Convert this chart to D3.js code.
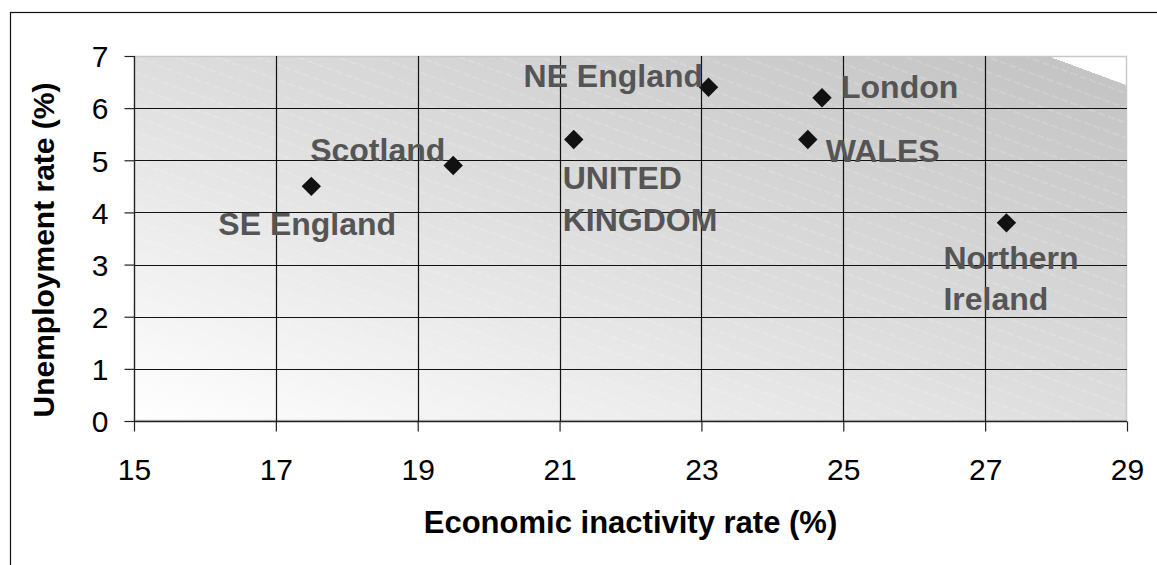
<!DOCTYPE html>
<html>
<head>
<meta charset="utf-8">
<script src="https://cdn.jsdelivr.net/npm/d3@7"></script>
<style>
  html, body { margin: 0; padding: 0; background: #fff; }
  svg text { font-family: "Liberation Sans", Arial, sans-serif; }
</style>
</head>
<body>
<div id="chart"></div>
<script>
// Regional labour market data
const regions = ['SE England', 'Scotland', 'UNITED KINGDOM', 'NE England', 'London', 'WALES', 'Northern Ireland'];
const inactivityRate = [17.5, 19.5, 21.2, 23.1, 24.7, 24.5, 27.3];
const unemploymentRate = [4.5, 4.9, 5.4, 6.4, 6.2, 5.4, 3.8];
const xTickValues = [15, 17, 19, 21, 23, 25, 27, 29];
const yTickValues = [0, 1, 2, 3, 4, 5, 6, 7];

// label placement relative to each marker (px), and line breaks
const labelLayout = [
  { dx: -93, dy: 49, lines: ['SE England'] },
  { dx: -143, dy: -5, lines: ['Scotland'] },
  { dx: -11, dy: 50, lines: ['UNITED', 'KINGDOM'] },
  { dx: -185, dy: 0, lines: ['NE England'] },
  { dx: 19, dy: 0, lines: ['London'] },
  { dx: 18, dy: 23, lines: ['WALES'] },
  { dx: -63, dy: 46, lines: ['Northern', 'Ireland'] }
];

const width = 1157, height = 565;
const plot = { left: 134, right: 1127, top: 56, bottom: 421 };

const svg = d3.select('#chart').append('svg')
  .attr('width', width)
  .attr('height', height);

const x = d3.scaleLinear().domain([15, 29]).range([plot.left, plot.right]);
const y = d3.scaleLinear().domain([0, 7]).range([plot.bottom, plot.top]);

// chart frame (runs off the right / bottom edge)
svg.append('rect')
  .attr('x', 10.5).attr('y', 12.5)
  .attr('width', 1300).attr('height', 700)
  .attr('fill', 'none')
  .attr('stroke', '#111')
  .attr('stroke-width', 1.2);

const defs = svg.append('defs');
const grad = defs.append('linearGradient')
  .attr('id', 'bg')
  .attr('x1', 0).attr('y1', 1).attr('x2', 1).attr('y2', 0);
grad.append('stop').attr('offset', 0).attr('stop-color', '#ffffff');
grad.append('stop').attr('offset', 0.5).attr('stop-color', '#dddddd');
grad.append('stop').attr('offset', 0.96).attr('stop-color', '#c4c4c4');
grad.append('stop').attr('offset', 0.96).attr('stop-color', '#ffffff');
grad.append('stop').attr('offset', 1).attr('stop-color', '#ffffff');

// faint banding stripes of the gradient
const stripeAngle = Math.atan((plot.bottom - plot.top) / (plot.right - plot.left)) * 180 / Math.PI;
const pat = defs.append('pattern')
  .attr('id', 'stripes')
  .attr('patternUnits', 'userSpaceOnUse')
  .attr('width', 40).attr('height', 14)
  .attr('patternTransform', `rotate(${stripeAngle})`);
pat.append('line')
  .attr('x1', 0).attr('y1', 7).attr('x2', 40).attr('y2', 7)
  .attr('stroke', '#ffffff')
  .attr('stroke-opacity', 0.3)
  .attr('stroke-width', 1)
  .attr('stroke-dasharray', '7,3');

const plotW = plot.right - plot.left, plotH = plot.bottom - plot.top;
svg.append('rect')
  .attr('x', plot.left).attr('y', plot.top)
  .attr('width', plotW).attr('height', plotH)
  .attr('fill', 'url(#bg)');
svg.append('rect')
  .attr('x', plot.left).attr('y', plot.top)
  .attr('width', plotW).attr('height', plotH)
  .attr('fill', 'url(#stripes)');
// white corner where the gradient wraps
svg.append('path')
  .attr('d', d3.line()([[x(27.9), y(7)], [x(29), y(7)], [x(29), y(6.44)]]) + 'Z')
  .attr('fill', '#ffffff');

// plot border (light)
svg.append('rect')
  .attr('x', plot.left + 0.5).attr('y', plot.top + 0.5)
  .attr('width', plotW - 1).attr('height', plotH - 1)
  .attr('fill', 'none')
  .attr('stroke', '#c8c8c8')
  .attr('stroke-width', 1.5);

// gridlines
svg.append('g').selectAll('line')
  .data(yTickValues.slice(1, -1))
  .join('line')
  .attr('x1', plot.left).attr('x2', plot.right)
  .attr('y1', d => Math.round(y(d)) + 0.5).attr('y2', d => Math.round(y(d)) + 0.5)
  .attr('stroke', '#111').attr('stroke-width', 1.2);
svg.append('g').selectAll('line')
  .data(xTickValues.slice(1, -1))
  .join('line')
  .attr('y1', plot.top).attr('y2', plot.bottom)
  .attr('x1', d => Math.round(x(d)) + 0.5).attr('x2', d => Math.round(x(d)) + 0.5)
  .attr('stroke', '#111').attr('stroke-width', 1.2);

// axes
const xAxis = svg.append('g')
  .attr('transform', `translate(0,${plot.bottom + 0.5})`)
  .call(d3.axisBottom(x).tickValues(xTickValues).tickFormat(d3.format('d'))
    .tickSize(10).tickSizeOuter(0).tickPadding(27));
const yAxis = svg.append('g')
  .attr('transform', `translate(${plot.left + 0.5},0)`)
  .call(d3.axisLeft(y).tickValues(yTickValues).tickFormat(d3.format('d'))
    .tickSize(10).tickSizeOuter(0).tickPadding(16));

[xAxis, yAxis].forEach(g => {
  g.select('.domain').attr('stroke', '#222').attr('stroke-width', 1.3);
  g.selectAll('.tick line').attr('stroke', '#222').attr('stroke-width', 1.2);
  g.selectAll('.tick text')
    .attr('fill', '#000')
    .style('font-family', '"Liberation Sans", Arial, sans-serif')
    .style('font-size', '30px');
});
yAxis.selectAll('.tick text').attr('dy', '0.36em');
yAxis.select('.domain').attr('d', `M0,${plot.top}V${plot.bottom}`);
xAxis.select('.domain').attr('d', `M${plot.left},0H${plot.right}`);

// axis titles
svg.append('text')
  .attr('x', (plot.left + plot.right) / 2)
  .attr('y', 533)
  .attr('text-anchor', 'middle')
  .attr('font-weight', 'bold')
  .attr('font-size', '31px')
  .attr('fill', '#000')
  .text('Economic inactivity rate (%)');

svg.append('text')
  .attr('transform', 'translate(54,250) rotate(-90)')
  .attr('text-anchor', 'middle')
  .attr('font-weight', 'bold')
  .attr('font-size', '30px')
  .attr('fill', '#000')
  .text('Unemployment rate (%)');

// points
const points = regions.map((name, i) => ({
  name,
  x: inactivityRate[i],
  y: unemploymentRate[i],
  layout: labelLayout[i]
}));

svg.append('g').selectAll('path')
  .data(points)
  .join('path')
  .attr('d', d3.symbol().type(d3.symbolDiamond2).size(240))
  .attr('transform', d => `translate(${x(d.x)},${y(d.y)})`)
  .attr('fill', '#111');

// point labels
const labels = svg.append('g').selectAll('text')
  .data(points)
  .join('text')
  .attr('x', d => x(d.x) + d.layout.dx)
  .attr('y', d => y(d.y) + d.layout.dy)
  .attr('font-weight', 'bold')
  .attr('font-size', '32px')
  .attr('fill', '#555555');

labels.selectAll('tspan')
  .data(d => d.layout.lines.map((t, j) => ({ t, j, x: x(d.x) + d.layout.dx })))
  .join('tspan')
  .attr('x', d => d.x)
  .attr('dy', d => d.j === 0 ? 0 : 41.5)
  .text(d => d.t);
</script>
</body>
</html>
